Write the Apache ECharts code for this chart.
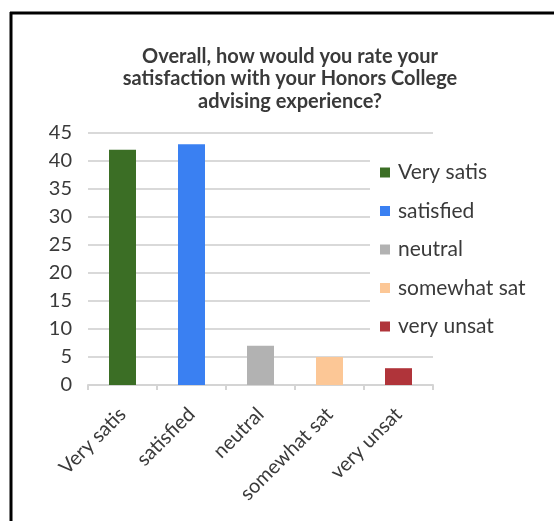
<!DOCTYPE html>
<html><head><meta charset="utf-8">
<script src="https://cdn.jsdelivr.net/npm/echarts@6/dist/echarts.min.js"></script>
<style>html,body{margin:0;padding:0;background:#fff}#c{width:554px;height:521px}</style>
</head><body><div id="c"></div>
<script>
const titleText = 'Overall, how would you rate your\nsatisfaction with your Honors College\nadvising experience?';
const categories = ['Very satis', 'satisfied', 'neutral', 'somewhat sat', 'very unsat'];
const values = [42, 43, 7, 5, 3];
const colors = ['#3b6e25', '#3a80f2', '#b2b2b2', '#fcc796', '#b0343a'];
const yTicks = { min: 0, max: 45, interval: 5 };

const txt = '#3a3a3a';
const font = 'Lato';
const series = categories.map((name, i) => ({
  name: name,
  type: 'bar',
  barWidth: 27,
  barGap: '-100%',
  itemStyle: { color: colors[i] },
  data: categories.map((c, j) => (j === i ? values[i] : '-'))
}));

const chart = echarts.init(document.getElementById('c'));
chart.setOption({
  animation: false,
  backgroundColor: '#fff',
  textStyle: { fontFamily: font },
  title: {
    text: titleText,
    left: 285,
    textAlign: 'center',
    top: 40,
    textStyle: { fontFamily: font, fontSize: 20, fontWeight: 'bold', color: txt, lineHeight: 22.5 }
  },
  grid: { left: 88, right: 121, top: 133, bottom: 136, containLabel: false },
  legend: {
    orient: 'vertical',
    left: 370,
    top: 150,
    padding: [12, 6, 10, 10],
    backgroundColor: '#fff',
    itemWidth: 10,
    itemHeight: 10,
    itemGap: 17.5,
    icon: 'rect',
    data: categories,
    textStyle: { fontFamily: font, fontSize: 21, color: txt, lineHeight: 21, padding: [0, 0, 0, 3] }
  },
  xAxis: {
    type: 'category',
    data: categories,
    axisLine: { lineStyle: { color: '#d4d4d4', width: 2 } },
    axisTick: { show: true, alignWithLabel: false, length: 5, lineStyle: { color: '#d4d4d4', width: 2 } },
    axisLabel: { rotate: 45, interval: 0, fontFamily: font, fontSize: 20, color: txt, margin: 26 }
  },
  yAxis: {
    type: 'value',
    min: yTicks.min, max: yTicks.max, interval: yTicks.interval,
    axisLine: { show: false },
    axisTick: { show: false },
    splitLine: { lineStyle: { color: '#d9d9d9', width: 2 } },
    axisLabel: { fontFamily: font, fontSize: 20, color: txt, margin: 16 }
  },
  graphic: [
    { type: 'line', shape: { x1: 10, y1: 13, x2: 554, y2: 13 }, style: { stroke: '#000', lineWidth: 3 }, z: 100 },
    { type: 'line', shape: { x1: 11, y1: 12, x2: 11, y2: 521 }, style: { stroke: '#000', lineWidth: 3 }, z: 100 }
  ],
  series: series
});
</script></body></html>
